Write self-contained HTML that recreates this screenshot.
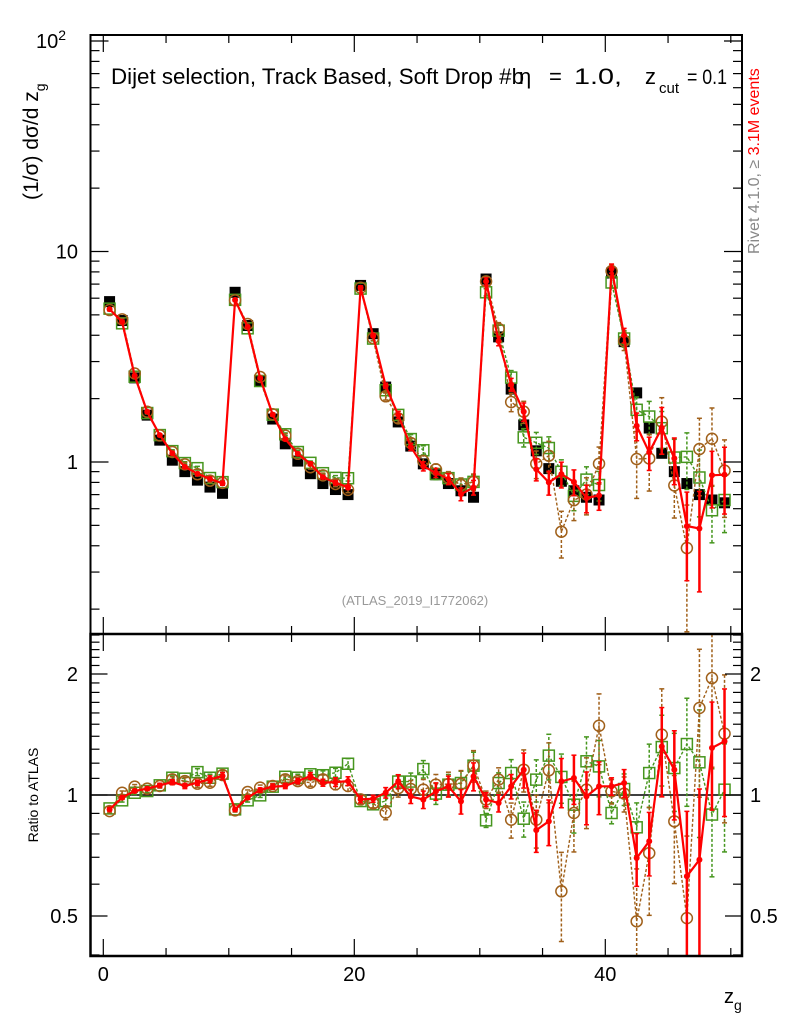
<!DOCTYPE html>
<html><head><meta charset="utf-8"><style>
html,body{margin:0;background:#fff;overflow:hidden;width:786px;height:1024px;}
svg{display:block;font-family:"Liberation Sans",sans-serif;}
</style></head><body>
<svg id="c" width="786" height="1024" xmlns="http://www.w3.org/2000/svg"></svg>
<script>
const bins = Array.from({length:50},(_,i)=>i+0.5);
const dataVals = [5.78,4.7,2.51,1.67,1.27,1.02,0.9,0.82,0.76,0.71,
 6.4,4.45,2.43,1.6,1.22,1.01,0.88,0.79,0.74,0.70,
 6.9,4.07,2.27,1.55,1.19,0.98,0.87,0.79,0.73,0.68,
 7.4,3.93,2.22,1.5,1.13,0.93,0.81,0.73,0.68,0.66,
 7.9,3.73,2.13,1.45,1.10,0.9,0.79,0.70,0.66,0.64];
const ratioRed = [0.921,0.985,1.023,1.037,1.057,1.077,1.053,1.073,1.094,1.115,
 0.921,0.985,1.029,1.049,1.053,1.083,1.115,1.073,1.077,1.083,
 0.975,0.979,1.013,1.08,0.992,0.974,1.021,1.051,0.964,1.113,
 0.974,0.955,1.051,1.156,0.818,0.86,1.081,1.102,0.992,1.051,
 1.051,1.071,0.697,0.767,1.32,1.156,0.628,0.69,1.31,1.36];
const ratioGreen = [0.926,0.97,1.013,1.023,1.057,1.104,1.098,1.14,1.104,1.13,
 0.921,0.97,0.998,1.049,1.11,1.104,1.126,1.12,1.136,1.196,
 0.966,0.948,0.966,1.08,1.08,1.16,1.008,1.061,1.071,1.183,
 0.865,1.071,1.134,0.873,1.092,1.253,1.109,0.946,1.213,1.178,
 0.902,1.035,0.831,1.134,1.316,1.167,1.339,1.206,0.894,1.031];
const ratioBrown = [0.912,1.013,1.049,1.037,1.053,1.094,1.083,1.067,1.073,1.121,
 0.916,1.017,1.043,1.053,1.094,1.083,1.073,1.094,1.063,1.053,
 0.975,0.953,0.904,1.04,1.035,1.031,1.061,1.065,1.065,1.183,
 0.974,1.092,0.868,1.156,0.868,1.152,0.576,0.902,1.031,1.487,
 1.021,1.008,0.485,0.717,1.413,0.86,0.494,1.646,1.954,1.421];
const errRed = [.01,.01,.01,.01,.012,.015,.015,.015,.02,.02,
 .01,.01,.012,.015,.015,.015,.02,.02,.025,.025,
 .02,.02,.03,.04,.04,.05,.05,.06,.07,.08,
 .04,.05,.07,.1,.12,.13,.14,.14,.15,.15,
 .05,.08,.15,.18,.25,.25,.45,.5,.3,.35];
const errGreen = [.01,.01,.01,.01,.012,.015,.015,.02,.02,.02,
 .01,.01,.012,.015,.015,.02,.02,.025,.025,.03,
 .02,.025,.03,.04,.05,.05,.06,.06,.07,.08,
 .04,.06,.08,.1,.12,.13,.14,.15,.15,.16,
 .06,.09,.15,.18,.2,.22,.3,.35,.3,.3];
const errBrown = [.01,.01,.012,.012,.012,.015,.02,.02,.02,.025,
 .01,.012,.015,.015,.02,.02,.02,.025,.03,.03,
 .02,.025,.04,.05,.05,.06,.06,.07,.08,.09,
 .05,.07,.1,.12,.15,.17,.25,.2,.2,.2,
 .07,.1,.35,.3,.3,.3,.6,.4,.4,.4];
const xTicksMajor = [0,20,40];
const mainYLabels = [["1",1],["10",10]];
const ratioYLabels = [["0.5",0.5],["1",1],["2",2]];

const svg = document.getElementById('c');
const NS = 'http://www.w3.org/2000/svg';
const L=90.5,R=742,T=35,M=634,B=956;
function xs(v){return 103.3+(v-0)*12.55;}
function ym(v){return 462-210.5*Math.log10(v);}
function yr(v){return 795-121*Math.log2(v);}
function el(tag,attrs,parent){const e=document.createElementNS(NS,tag);for(const k in attrs)e.setAttribute(k,attrs[k]);(parent||svg).appendChild(e);return e;}
function clamp(v,a,b){return Math.max(a,Math.min(b,v));}

const defs=el('defs',{});
const c1=el('clipPath',{id:'cm'},defs);el('rect',{x:L,y:T,width:R-L,height:M-T},c1);
const c2=el('clipPath',{id:'cr'},defs);el('rect',{x:L,y:M,width:R-L,height:B-M},c2);

const gMain=el('g',{'clip-path':'url(#cm)'});


const gRat=el('g',{'clip-path':'url(#cr)'});



const rl=el('line',{x1:L,x2:R,y1:yr(1),y2:yr(1),stroke:'#000','stroke-width':1.5},gRat);



function series(name,ratios,errs,color,dash,width,marker){
  [[gMain,ym,true,T,M],[gRat,yr,false,M,B]].forEach(([g,yf,isMain,top,bot])=>{
    const grp=el('g',{},g);
    
    
    const vals=ratios.map((r,i)=>isMain?r*dataVals[i]:r);
    const pts=vals.map((v,i)=>xs(bins[i]).toFixed(1)+','+clamp(yf(v),top,bot).toFixed(1)).join(' ');
    const pl=el('polyline',{points:pts,fill:'none',stroke:color,'stroke-width':width,'stroke-dasharray':dash||'none','stroke-linejoin':'round'},grp);
    
    
    vals.forEach((v,i)=>{
      const x=xs(bins[i]);
      const lo=clamp(yf(v*(1-errs[i])),top,bot),hi=clamp(yf(v*(1+errs[i])),top,bot);
      const eb=el('line',{x1:x,x2:x,y1:lo,y2:hi,stroke:color,'stroke-width':dash?1.5:2.5,'stroke-dasharray':dash||'none'},grp);
      
      
      [lo,hi].forEach(yy=>{if(yy<=top||yy>=bot)return;const cp=el('line',{x1:x-2.5,x2:x+2.5,y1:yy,y2:yy,stroke:color,'stroke-width':1.5},grp);
        
        });
      let mk;
      const y=yf(v);
      if(y<top||y>bot) return;
      if(marker==='square') mk=el('rect',{x:x-5.5,y:y-5.5,width:11,height:11,fill:'none',stroke:color,'stroke-width':1.5},grp);
      else if(marker==='circle') mk=el('circle',{cx:x,cy:y,r:5.5,fill:'none',stroke:color,'stroke-width':1.5},grp);
      else mk=el('circle',{cx:x,cy:y,r:3,fill:color},grp);
      
      
    });
  });
}

const gd=el('g',{},gMain);


dataVals.forEach((v,i)=>{
  const r=el('rect',{x:xs(bins[i])-5.5,y:ym(v)-5.5,width:11,height:11,fill:'#000'},gd);
  
  
});
series('mc-green',ratioGreen,errGreen,'#46961e','3,2',1.4,'square');
series('mc-brown',ratioBrown,errBrown,'#a0601a','3,2',1.4,'circle');
series('mc-red',ratioRed,errRed,'#ff0000',null,2.2,'dot');

[[T,M],[M,B]].forEach(([a,b],k)=>{
  const f=el('rect',{x:L,y:a,width:R-L,height:b-a,fill:'none',stroke:'#000','stroke-width':k?2.5:2});
  
  
});
const gx=el('g',{stroke:'#000','stroke-width':1.2});


for(let v=0;v<=50;v+=5){
  const major=xTicksMajor.includes(v);const x=xs(v);const len=major?17:8;
  [[M,-1],[B,-1],[T,1],[M,1]].forEach(([y,d])=>{el('line',{x1:x,x2:x,y1:y,y2:y+d*len},gx);});
}
xTicksMajor.forEach(v=>{const t=el('text',{x:xs(v),y:981,'font-size':20,'text-anchor':'middle'});t.textContent=v;
  });
const gy=el('g',{stroke:'#000','stroke-width':1.2});


for(let d=-1;d<=2;d++){for(let m=1;m<=9;m++){const v=m*Math.pow(10,d);const y=ym(v);if(y<T||y>M)continue;
  const len=m===1?18:9;el('line',{x1:L,x2:L+len,y1:y,y2:y},gy);el('line',{x1:R,x2:R-len,y1:y,y2:y},gy);}}
mainYLabels.forEach(([s,v])=>{const t=el('text',{x:78,y:ym(v)+7,'font-size':20,'text-anchor':'end'});t.textContent=s;
  });
const t100=el('text',{x:66,y:ym(100)+7,'font-size':20,'text-anchor':'end'});t100.innerHTML='10<tspan dy="-8" font-size="14">2</tspan>';

[0.4,0.5,0.6,0.7,0.8,0.9,1,1.1,1.2,1.3,1.4,1.5,1.6,1.7,1.8,1.9,2,2.1,2.2,2.3,2.4,2.5].forEach(v=>{const y=yr(v);if(y<M||y>B)return;
  const major=[0.5,1,2].includes(v);const len=major?17:9;
  el('line',{x1:L,x2:L+len,y1:y,y2:y},gy);el('line',{x1:R,x2:R-len,y1:y,y2:y},gy);});
ratioYLabels.forEach(([s,v])=>{[[78,'end'],[750,'start']].forEach(([x,a])=>{const t=el('text',{x:x,y:yr(v)+7,'font-size':20,'text-anchor':a});t.textContent=s;
  });});

function txt(html,attrs,name){const t=el('text',attrs);t.innerHTML=html;return t;}
txt('Dijet selection, Track Based, Soft Drop #b',{x:111,y:84,'font-size':22,textLength:413,lengthAdjust:'spacingAndGlyphs'},'plot-title');
txt('η',{x:519,y:84,'font-size':22},'plot-title-eta');
txt('=',{x:549,y:84,'font-size':22},'plot-title-equals');
txt('1.0,',{x:574,y:84,'font-size':22,textLength:48,lengthAdjust:'spacingAndGlyphs'},'plot-title-value');
txt('z',{x:645,y:84,'font-size':22},'plot-title-z');
txt('cut',{x:659,y:93,'font-size':15},'plot-title-subscript');
txt('= 0.1',{x:687,y:84,'font-size':21,textLength:40,lengthAdjust:'spacingAndGlyphs'},'plot-title-end');
txt('(1/σ) dσ/d z<tspan dy="7" font-size="14">g</tspan>',{x:0,y:0,'font-size':21,transform:'translate(38,200) rotate(-90)'},'y-axis-title');
txt('Ratio to ATLAS',{x:0,y:0,'font-size':14,'text-anchor':'middle',transform:'translate(38,795) rotate(-90)'},'ratio-axis-title');
txt('z<tspan dy="7" font-size="14">g</tspan>',{x:724,y:1003,'font-size':20},'x-axis-title');
txt('(ATLAS_2019_I1772062)',{x:415,y:605,'font-size':13,fill:'#999','text-anchor':'middle'},'analysis-id');
txt('<tspan fill="#888">Rivet 4.1.0, ≥ </tspan><tspan fill="#ff0000">3.1M events</tspan>',{x:0,y:0,'font-size':16,transform:'translate(759,254) rotate(-90)'},'rivet-label');
</script>
</body></html>
